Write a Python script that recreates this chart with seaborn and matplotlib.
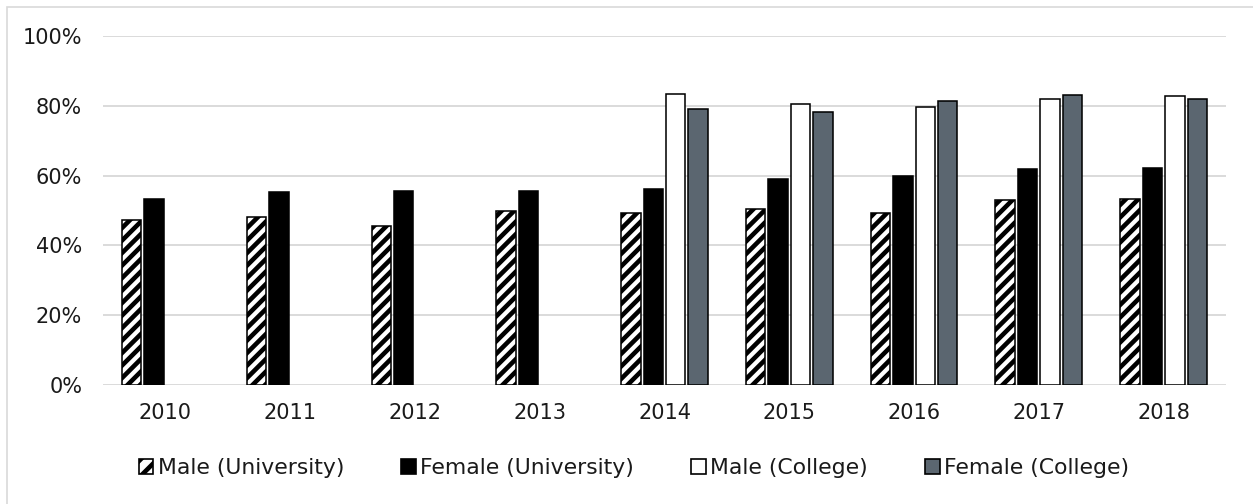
import numpy as np
import pandas as pd
import seaborn as sns
import matplotlib
matplotlib.use("Agg")
import matplotlib.pyplot as plt
import matplotlib.patches as mpatches
from matplotlib.ticker import PercentFormatter

years = ["2010", "2011", "2012", "2013", "2014", "2015", "2016", "2017", "2018"]
series = ["Male (University)", "Female (University)", "Male (College)", "Female (College)"]
male_university = [47.3, 48.0, 45.5, 49.9, 49.3, 50.4, 49.3, 53.0, 53.3]
female_university = [53.2, 55.3, 55.5, 55.7, 56.1, 58.9, 59.8, 61.9, 62.1]
male_college = [np.nan, np.nan, np.nan, np.nan, 83.5, 80.6, 79.7, 82.0, 82.7]
female_college = [np.nan, np.nan, np.nan, np.nan, 79.2, 78.3, 81.4, 83.2, 81.9]

values = [male_university, female_university, male_college, female_college]
rows = []
for s, vals in zip(series, values):
    for y, v in zip(years, vals):
        rows.append({"year": y, "series": s, "value": v / 100.0})
df = pd.DataFrame(rows)

face_colors = ["white", "black", "white", "#5B6670"]
hatches = ["////", "", "", ""]
legend_hatches = ["///", "", "", ""]

sns.set_theme(style="white")
plt.rcParams["font.family"] = ["DejaVu Sans"]
plt.rcParams["hatch.linewidth"] = 2.2

DPI = 150
fig = plt.figure(figsize=(1253 / DPI, 504 / DPI), dpi=DPI)
ax = fig.add_axes([103 / 1253, 1 - 385 / 504, (1226 - 103) / 1253, (385 - 36) / 504])

sns.barplot(data=df, x="year", y="value", hue="series", order=years, hue_order=series,
            palette=face_colors, width=0.72, gap=0.135, errorbar=None,
            edgecolor="black", linewidth=0.75, legend=False, ax=ax, zorder=3)

for cont, fc, h in zip(ax.containers, face_colors, hatches):
    for p in cont.patches:
        p.set_facecolor(fc)
        p.set_edgecolor("black")
        p.set_hatch(h)

ax.set_ylim(0, 1.0)
ax.set_xlim(-0.5, len(years) - 0.5)
ax.set_yticks(np.linspace(0, 1, 6))
ax.yaxis.set_major_formatter(PercentFormatter(1.0, decimals=0))
ax.grid(axis="y", color="#D9D9D9", linewidth=0.9, zorder=0)
ax.grid(axis="x", visible=False)
ax.set_axisbelow(True)
for sp in ax.spines.values():
    sp.set_visible(False)
ax.tick_params(axis="y", length=0, pad=10, labelsize=10, labelcolor="#1A1A1A")
ax.tick_params(axis="x", length=0, pad=8.5, labelsize=10, labelcolor="#1A1A1A")
ax.set_xlabel("")
ax.set_ylabel("")

handles = [mpatches.Patch(facecolor=fc, edgecolor="black", hatch=h, linewidth=0.8)
           for fc, h in zip(face_colors, legend_hatches)]
leg = fig.legend(handles, series, loc="center", bbox_to_anchor=(0.506, 1 - 468 / 504), ncol=4,
                 frameon=False, fontsize=10.5, handlelength=0.68, handleheight=0.68,
                 handletextpad=0.2, columnspacing=2.6, borderaxespad=0, borderpad=0)
for t in leg.get_texts():
    t.set_color("#1A1A1A")

# chart-area frame (top and left edges visible)
frame = mpatches.Rectangle((7 / 1253, -0.1), 1.2, 1 - 7 / 504 + 0.1, transform=fig.transFigure,
                           fill=False, edgecolor="#D9D9D9", linewidth=0.8)
fig.patches.append(frame)

fig.savefig("out.png", dpi=DPI)
